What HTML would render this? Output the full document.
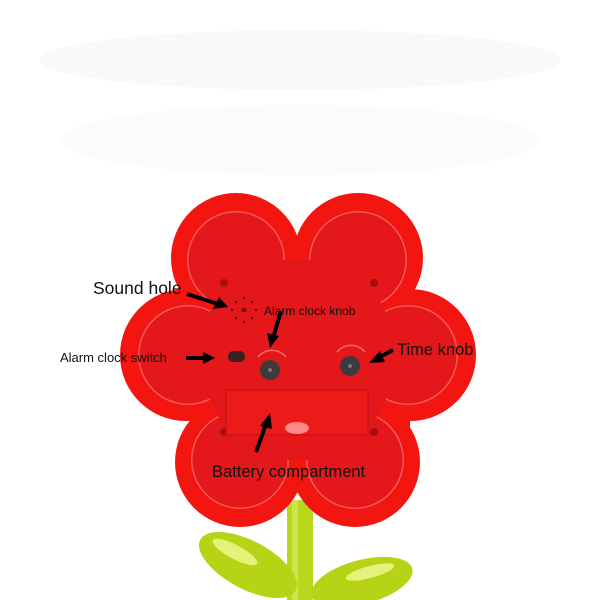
<!DOCTYPE html>
<html><head><meta charset="utf-8"><style>
html,body{margin:0;padding:0;background:#fff;width:600px;height:600px;overflow:hidden}
svg{display:block}
text{font-family:"Liberation Sans",sans-serif;fill:#111}
</style></head><body>
<svg width="600" height="600" viewBox="0 0 600 600">
<rect width="600" height="600" fill="#fff"/>
<ellipse cx="300" cy="60" rx="260" ry="30" fill="#f9f9f9"/>
<ellipse cx="300" cy="140" rx="240" ry="35" fill="#fbfbfb"/>
<!-- stem and leaves -->
<rect x="287" y="500" width="26" height="100" fill="#b8d81e"/>
<rect x="292" y="500" width="6" height="100" fill="#cde650"/>
<ellipse cx="248" cy="565" rx="54" ry="24" transform="rotate(28 248 565)" fill="#b6d415"/>
<ellipse cx="235" cy="552" rx="25" ry="7" transform="rotate(28 235 552)" fill="#e4f27a"/>
<ellipse cx="362" cy="582" rx="52" ry="22" transform="rotate(-15 362 582)" fill="#b6d415"/>
<ellipse cx="370" cy="572" rx="25" ry="6" transform="rotate(-15 370 572)" fill="#e4f27a"/>
<!-- flower outer -->
<g fill="#f3150f">
<circle cx="236" cy="258" r="65"/><circle cx="358" cy="258" r="65"/>
<circle cx="186" cy="355" r="66"/><circle cx="410" cy="355" r="66"/>
<circle cx="240" cy="462" r="65"/><circle cx="355" cy="462" r="65"/>
<rect x="190" y="250" width="220" height="220"/>
</g>
<g fill="#f25a5a">
<circle cx="236" cy="260" r="49"/><circle cx="358" cy="260" r="49"/>
<circle cx="188" cy="355" r="50"/><circle cx="408" cy="355" r="50"/>
<circle cx="240" cy="460" r="49"/><circle cx="355" cy="460" r="49"/>
</g>
<g fill="#e4171b">
<circle cx="236" cy="260" r="47.5"/><circle cx="358" cy="260" r="47.5"/>
<circle cx="188" cy="355" r="48.5"/><circle cx="408" cy="355" r="48.5"/>
<circle cx="240" cy="460" r="47.5"/><circle cx="355" cy="460" r="47.5"/>
<polygon points="236,260 358,260 408,355 355,460 240,460 188,355"/>
</g>
<!-- screws -->
<g fill="#a80e12"><circle cx="224" cy="283" r="4"/><circle cx="374" cy="283" r="4"/><circle cx="224" cy="432" r="4"/><circle cx="374" cy="432" r="4"/></g>
<!-- sound holes -->
<g fill="#7a0d10"><circle cx="244" cy="310" r="2.5"/><circle cx="244" cy="298" r="1.3"/><circle cx="244" cy="322" r="1.3"/><circle cx="232" cy="310" r="1.3"/><circle cx="256" cy="310" r="1.3"/><circle cx="236" cy="302" r="1.3"/><circle cx="252" cy="302" r="1.3"/><circle cx="236" cy="318" r="1.3"/><circle cx="252" cy="318" r="1.3"/></g>
<!-- switch -->
<rect x="228" y="351" width="17" height="11" rx="5.5" fill="#3a2020"/>
<!-- knobs -->
<path d="M258 357 A18 18 0 0 1 286 357" stroke="#f26a6a" fill="none" stroke-width="1.5"/>
<path d="M337 352 A18 18 0 0 1 365 352" stroke="#f26a6a" fill="none" stroke-width="1.5"/>
<circle cx="270" cy="370" r="10" fill="#3c3c3c"/><circle cx="270" cy="370" r="2" fill="#777"/>
<circle cx="350" cy="366" r="10" fill="#3c3c3c"/><circle cx="350" cy="366" r="2" fill="#777"/>
<!-- battery -->
<rect x="226" y="390" width="142" height="45" fill="#ec1a18" stroke="#c01016" stroke-width="1"/>
<ellipse cx="297" cy="428" rx="12" ry="6" fill="#f88"/>
<!-- arrows -->
<g stroke="#000" stroke-width="4" fill="#000">
<line x1="187" y1="294" x2="218" y2="304"/>
<line x1="186" y1="358" x2="205" y2="358"/>
<line x1="281" y1="311" x2="273" y2="338"/>
<line x1="393" y1="350" x2="378" y2="358"/>
<line x1="266" y1="424" x2="256" y2="452"/>
</g>
<g fill="#000">
<polygon points="228,307 213,309 219,297"/>
<polygon points="215,358 203,352 203,364"/>
<polygon points="270,348 267,333 279,336"/>
<polygon points="369,363 380,351 385,362"/>
<polygon points="270,413 260,426 272,429"/>
</g>
<!-- labels -->
<text x="93" y="294" font-size="17.5">Sound hole</text>
<text x="264" y="315" font-size="12">Alarm clock knob</text>
<text x="60" y="362" font-size="13">Alarm clock switch</text>
<text x="397" y="355" font-size="16.5">Time knob</text>
<text x="212" y="477" font-size="16.5">Battery compartment</text>
</svg>
</body></html>
